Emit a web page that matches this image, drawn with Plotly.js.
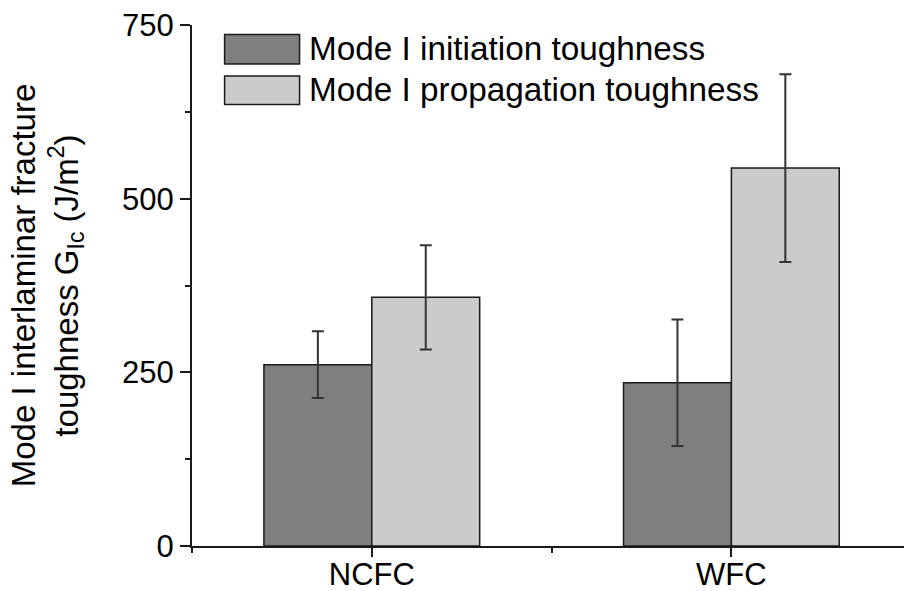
<!DOCTYPE html>
<html>
<head>
<meta charset="utf-8">
<script src="https://cdn.plot.ly/plotly-3.0.1.min.js"></script>
<style>
  html, body { margin: 0; padding: 0; background: #fff; overflow: hidden; }
  #chart { width: 904px; height: 591px; }
</style>
</head>
<body>
<div id="chart"></div>
<script>
// ---- data ----
const categories = ["NCFC", "WFC"];
const seriesNames = ["Mode I initiation toughness", "Mode I propagation toughness"];
const initiation = [261, 235];
const initiationErr = [48, 91];
const propagation = [358, 544];
const propagationErr = [75, 135];
const yTickVals = [0, 250, 500, 750];

// ---- style ----
const darkGray = "rgb(127,127,127)";
const lightGray = "rgb(203,203,203)";
const lineCol = "#1a1a1a";
const fontFam = "Arial, 'Liberation Sans', Helvetica, sans-serif";
const xIdx = categories.map((c, i) => i);

const errStyle = { type: "data", visible: true, color: "#333", thickness: 2, width: 6 };

const traces = [
  {
    type: "bar", name: seriesNames[0], x: xIdx, y: initiation,
    marker: { color: darkGray, line: { color: lineCol, width: 1.5 } },
    error_y: Object.assign({ array: initiationErr }, errStyle),
    showlegend: false, hoverinfo: "skip"
  },
  {
    type: "bar", name: seriesNames[1], x: xIdx, y: propagation,
    marker: { color: lightGray, line: { color: lineCol, width: 1.5 } },
    error_y: Object.assign({ array: propagationErr }, errStyle),
    showlegend: false, hoverinfo: "skip"
  }
];

// plot area in pixels (for the hand-built legend)
const L = 191.7, R = 0, T = 25, B = 44.5, W = 904, H = 591;
const pw = W - L - R, ph = H - T - B;
const px = (x) => (x - L) / pw;
const py = (y) => (H - B - y) / ph;

const swatches = [
  { x0: 224.3, x1: 299.3, y0: 34.5, y1: 64, c: darkGray },
  { x0: 224.3, x1: 299.3, y0: 76, y1: 104.5, c: lightGray }
];
const shapes = swatches.map(s => ({
  type: "rect", xref: "paper", yref: "paper",
  x0: px(s.x0), x1: px(s.x1), y0: py(s.y1), y1: py(s.y0),
  fillcolor: s.c, line: { color: lineCol, width: 1.5 }
}));
const legendY = [49, 90];
const annotations = seriesNames.map((n, i) => ({
  xref: "paper", yref: "paper", x: px(307), y: py(legendY[i]),
  xanchor: "left", yanchor: "middle", showarrow: false,
  text: n, font: { family: fontFam, size: 33.3, color: "#000" }
}));

const layout = {
  width: W, height: H,
  margin: { l: L, r: R, t: T, b: B, pad: 0 },
  paper_bgcolor: "#fff", plot_bgcolor: "#fff",
  barmode: "group", bargap: 0.4, bargroupgap: 0,
  font: { family: fontFam, color: "#000" },
  showlegend: false,
  xaxis: {
    type: "linear", range: [-0.5, 1.48],
    tickmode: "array", tickvals: xIdx, ticktext: categories,
    ticks: "outside", ticklen: 9, tickwidth: 2, tickcolor: lineCol,
    minor: { tickmode: "array", tickvals: [-0.5, 0.5, 1.5], ticks: "outside", ticklen: 5, tickwidth: 2, tickcolor: lineCol, showgrid: false },
    showline: true, linecolor: lineCol, linewidth: 2,
    showgrid: false, zeroline: false,
    tickfont: { family: fontFam, size: 31, color: "#000" },
    ticklabelstandoff: -9,
    automargin: false, fixedrange: true
  },
  yaxis: {
    range: [0, 750],
    tickmode: "array", tickvals: yTickVals,
    ticks: "outside", ticklen: 10, tickwidth: 2, tickcolor: lineCol,
    minor: { dtick: 125, tick0: 0, ticks: "outside", ticklen: 5, tickwidth: 2, tickcolor: lineCol, showgrid: false },
    showline: true, linecolor: lineCol, linewidth: 2,
    showgrid: false, zeroline: false,
    tickfont: { family: fontFam, size: 31, color: "#000" },
    ticklabelstandoff: 0,
    title: {
      text: "Mode I interlaminar fracture<br>toughness G<sub>Ic</sub> (J/m<sup>2</sup>)",
      font: { family: fontFam, size: 33, color: "#000" },
      standoff: 34
    },
    automargin: false, fixedrange: true
  },
  shapes: shapes,
  annotations: annotations
};

Plotly.newPlot("chart", traces, layout, { displayModeBar: false, staticPlot: true });
</script>
</body>
</html>
